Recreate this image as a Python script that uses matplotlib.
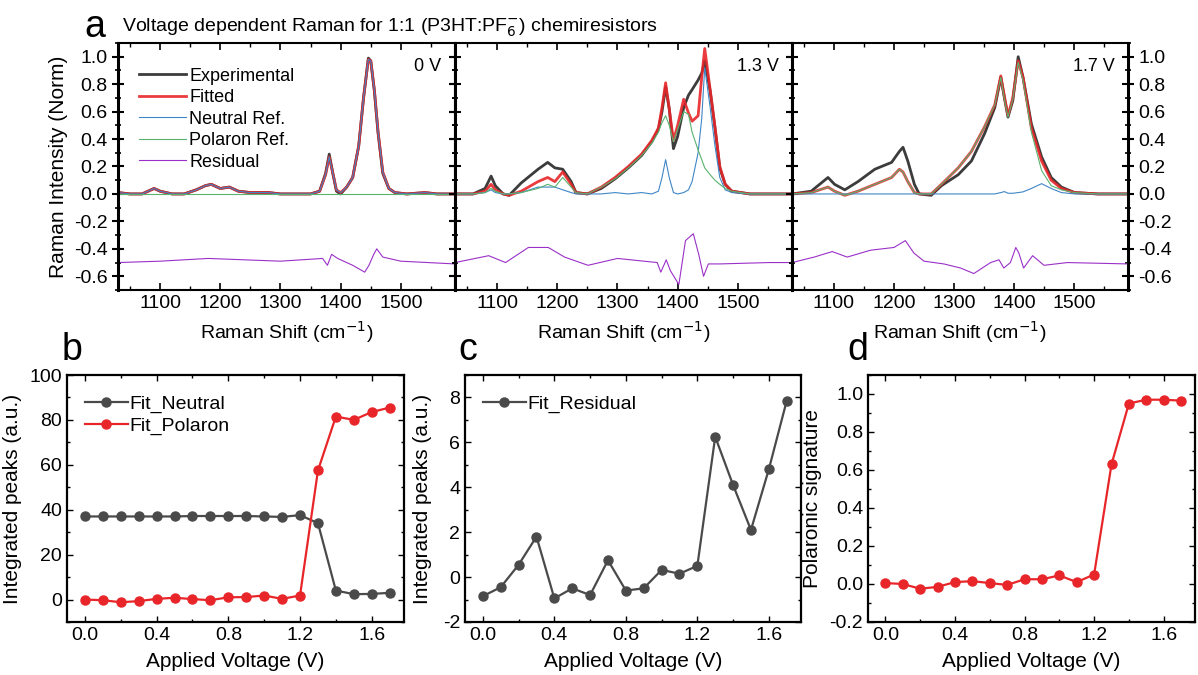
import numpy as np
import matplotlib.pyplot as plt
from matplotlib.ticker import MultipleLocator

plt.rcParams['font.family'] = ['Liberation Sans', 'DejaVu Sans']
plt.rcParams['axes.unicode_minus'] = False

# ---- panel a : spectra ----
# 0 V
x_0v = [1030, 1050, 1070, 1090, 1100, 1120, 1140, 1160, 1175, 1185, 1200, 1215, 1230, 1250, 1280,
        1300, 1320, 1350, 1365, 1375, 1381, 1387, 1393, 1400, 1410, 1420, 1430, 1438, 1446, 1450,
        1456, 1462, 1470, 1480, 1490, 1510, 1540, 1560, 1590]
exp_0v = [0.01, 0.0, 0.0, 0.04, 0.02, 0.0, 0.0, 0.03, 0.06, 0.07, 0.04, 0.05, 0.02, 0.01, 0.01,
          0.0, 0.0, 0.0, 0.02, 0.15, 0.29, 0.15, 0.02, 0.0, 0.05, 0.12, 0.35, 0.70, 0.99, 0.97,
          0.75, 0.45, 0.15, 0.04, 0.01, 0.0, 0.01, 0.0, 0.0]
fit_0v = [0.01, 0.0, 0.0, 0.04, 0.02, 0.0, 0.0, 0.03, 0.06, 0.07, 0.04, 0.05, 0.02, 0.01, 0.01,
          0.0, 0.0, 0.0, 0.02, 0.14, 0.27, 0.15, 0.03, 0.01, 0.05, 0.12, 0.35, 0.70, 0.98, 0.97,
          0.76, 0.46, 0.16, 0.04, 0.01, 0.0, 0.01, 0.0, 0.0]
pol_x_0v = [1030, 1590]
pol_0v = [0.0, 0.0]
res_x_0v = [1030, 1100, 1180, 1300, 1370, 1378, 1385, 1395, 1420, 1440, 1447, 1455, 1460, 1470, 1500, 1590]
res_0v = [-0.50, -0.49, -0.47, -0.49, -0.47, -0.52, -0.44, -0.47, -0.52, -0.57, -0.52, -0.44, -0.40,
          -0.46, -0.49, -0.51]

# 1.3 V
x_13 = [1030, 1060, 1080, 1090, 1097, 1110, 1120, 1140, 1168, 1184, 1196, 1209, 1223, 1231, 1250,
        1273, 1296, 1318, 1340, 1357, 1368, 1374, 1380, 1386, 1393, 1400, 1410, 1418, 1424, 1434,
        1440, 1445, 1454, 1462, 1470, 1479, 1490, 1520, 1590]
exp_13 = [0.0, 0.0, 0.04, 0.13, 0.06, 0.0, -0.01, 0.08, 0.18, 0.23, 0.19, 0.18, 0.09, 0.01, 0.0,
          0.04, 0.11, 0.19, 0.28, 0.38, 0.47, 0.60, 0.78, 0.62, 0.33, 0.42, 0.63, 0.72, 0.76, 0.83,
          0.88, 0.97, 0.75, 0.48, 0.19, 0.07, 0.02, 0.0, 0.0]
fit_13 = [0.0, 0.0, 0.02, 0.07, 0.03, 0.0, -0.01, 0.02, 0.09, 0.12, 0.09, 0.16, 0.07, 0.01, 0.0,
          0.05, 0.12, 0.20, 0.29, 0.39, 0.48, 0.63, 0.81, 0.62, 0.39, 0.50, 0.69, 0.59, 0.53, 0.57,
          0.85, 1.06, 0.76, 0.49, 0.20, 0.07, 0.02, 0.0, 0.0]
neu_13 = [0.0, 0.0, 0.01, 0.03, 0.01, 0.0, 0.0, 0.01, 0.05, 0.05, 0.05, 0.03, 0.01, 0.0, 0.0,
          0.0, 0.01, 0.0, 0.01, 0.0, 0.02, 0.12, 0.25, 0.12, 0.01, 0.0, 0.01, 0.03, 0.09, 0.30,
          0.55, 0.92, 0.63, 0.35, 0.12, 0.03, 0.01, 0.0, 0.0]
pol_13 = [0.0, 0.0, 0.01, 0.04, 0.02, 0.0, 0.0, 0.01, 0.04, 0.07, 0.05, 0.12, 0.05, 0.01, 0.0,
          0.05, 0.11, 0.19, 0.28, 0.37, 0.45, 0.52, 0.57, 0.50, 0.38, 0.47, 0.60, 0.58, 0.45, 0.32,
          0.25, 0.19, 0.14, 0.10, 0.07, 0.04, 0.02, 0.0, 0.0]
res_x_13 = [1030, 1086, 1114, 1152, 1185, 1212, 1251, 1300, 1366, 1372, 1381, 1388, 1402, 1413,
            1426, 1435, 1443, 1451, 1470, 1552, 1590]
res_13 = [-0.50, -0.45, -0.50, -0.39, -0.39, -0.46, -0.52, -0.47, -0.50, -0.57, -0.48, -0.56, -0.66,
          -0.34, -0.29, -0.44, -0.60, -0.51, -0.51, -0.50, -0.50]

# 1.7 V
x_17 = [1030, 1062, 1090, 1101, 1118, 1140, 1168, 1196, 1209, 1215, 1223, 1234, 1242, 1262, 1279,
        1307, 1329, 1351, 1368, 1378, 1384, 1390, 1398, 1407, 1415, 1429, 1446, 1462, 1479, 1501,
        1540, 1590]
exp_17 = [0.0, 0.02, 0.12, 0.07, 0.03, 0.09, 0.18, 0.23, 0.31, 0.34, 0.24, 0.07, 0.0, -0.01, 0.06,
          0.14, 0.24, 0.44, 0.63, 0.85, 0.70, 0.56, 0.68, 1.00, 0.85, 0.51, 0.27, 0.12, 0.05, 0.01,
          0.0, 0.0]
fit_17 = [0.0, 0.01, 0.05, 0.02, -0.01, 0.02, 0.07, 0.12, 0.18, 0.16, 0.09, 0.01, 0.0, 0.0, 0.07,
          0.19, 0.31, 0.49, 0.65, 0.86, 0.71, 0.57, 0.70, 0.97, 0.85, 0.48, 0.24, 0.10, 0.04, 0.01,
          0.0, 0.0]
neu_17 = [0.0, 0.0, 0.0, 0.0, 0.0, 0.0, 0.0, 0.0, 0.0, 0.0, 0.0, 0.0, 0.0, 0.0, 0.0,
          0.0, 0.0, 0.0, 0.0, 0.01, 0.017, 0.005, 0.005, 0.01, 0.015, 0.04, 0.075, 0.04, 0.01, 0.0,
          0.0, 0.0]
pol_17 = [0.0, 0.01, 0.05, 0.02, -0.01, 0.02, 0.07, 0.12, 0.18, 0.16, 0.09, 0.01, 0.0, 0.0, 0.07,
          0.19, 0.31, 0.49, 0.65, 0.85, 0.69, 0.56, 0.69, 0.96, 0.83, 0.45, 0.17, 0.06, 0.03, 0.01,
          0.0, 0.0]
res_x_17 = [1030, 1067, 1097, 1122, 1161, 1200, 1219, 1233, 1250, 1283, 1311, 1333, 1361, 1375,
            1383, 1394, 1403, 1408, 1416, 1431, 1450, 1489, 1590]
res_17 = [-0.50, -0.46, -0.42, -0.46, -0.41, -0.39, -0.34, -0.43, -0.49, -0.51, -0.54, -0.58, -0.50,
          -0.48, -0.54, -0.50, -0.39, -0.43, -0.54, -0.45, -0.52, -0.50, -0.51]

# ---- panels b, c, d ----
voltage = [0.0, 0.1, 0.2, 0.3, 0.4, 0.5, 0.6, 0.7, 0.8, 0.9, 1.0, 1.1, 1.2, 1.3, 1.4, 1.5, 1.6, 1.7]
fit_neutral = [37, 37, 37, 37, 37, 37, 37.2, 37.2, 37.2, 37.2, 37, 36.8, 37.6, 34, 4, 2.4, 2.5, 3]
fit_polaron = [0, -0.3, -1.2, -0.7, 0.3, 0.8, 0.2, -0.3, 1.0, 1.1, 1.8, 0.3, 1.8, 57.5, 81.5, 80, 83.5, 85.5]
fit_residual = [-0.85, -0.45, 0.55, 1.8, -0.95, -0.5, -0.8, 0.75, -0.6, -0.5, 0.32, 0.15, 0.5,
                6.25, 4.1, 2.1, 4.8, 7.85]
polaronic = [0.005, 0.0, -0.025, -0.015, 0.01, 0.015, 0.005, -0.005, 0.025, 0.025, 0.045, 0.01,
             0.05, 0.63, 0.95, 0.97, 0.97, 0.965]

W, H = 1198, 675
fig = plt.figure(figsize=(W / 100, H / 100), dpi=100)


def px_axes(left, top, right, bottom):
    return fig.add_axes([left / W, (H - bottom) / H, (right - left) / W, (bottom - top) / H])


c_exp = '#3c3c3c'
c_fit = '#e8262a'
c_neu = '#3f86c6'
c_pol = '#59b36f'
c_res = '#9b30c8'

spectra = [
    (x_0v, exp_0v, fit_0v, x_0v, fit_0v, pol_x_0v, pol_0v, res_x_0v, res_0v, '0 V'),
    (x_13, exp_13, fit_13, x_13, neu_13, x_13, pol_13, res_x_13, res_13, '1.3 V'),
    (x_17, exp_17, fit_17, x_17, neu_17, x_17, pol_17, res_x_17, res_17, '1.7 V'),
]
edges = [(118, 455), (455, 792), (792, 1128)]
axes_a = []
for i, (sp, (l, r)) in enumerate(zip(spectra, edges)):
    xs, ye, yf, xn, yn, xp, yp, xr, yr, lab = sp
    ax = px_axes(l, 43, r, 290)
    ax.plot(xs, ye, color=c_exp, lw=2.0, label='Experimental')
    ax.plot(xs, yf, color=c_fit, lw=2.0, label='Fitted', alpha=0.9)
    ax.plot(xn, yn, color=c_neu, lw=0.8, label='Neutral Ref.')
    ax.plot(xp, yp, color=c_pol, lw=0.8, label='Polaron Ref.')
    ax.plot(xr, yr, color=c_res, lw=0.8, label='Residual')
    ax.set_xlim(1030, 1590)
    ax.set_ylim(-0.7, 1.1)
    ax.xaxis.set_major_locator(MultipleLocator(100))
    ax.xaxis.set_minor_locator(MultipleLocator(50))
    ax.yaxis.set_major_locator(MultipleLocator(0.2))
    ax.yaxis.set_minor_locator(MultipleLocator(0.1))
    ax.tick_params(axis='x', which='both', direction='in', top=True, labelsize=14)
    ax.tick_params(axis='x', which='major', length=5, width=1.2)
    ax.tick_params(axis='x', which='minor', length=3, width=1)
    ax.tick_params(axis='y', which='both', direction='inout', left=True, right=True,
                   labelleft=(i == 0), labelright=(i == 2), labelsize=14)
    ax.tick_params(axis='y', which='major', length=8, width=1.5)
    ax.tick_params(axis='y', which='minor', length=5, width=1.2)
    for s in ax.spines.values():
        s.set_linewidth(1.5)
    ax.spines['left'].set_linewidth(2.2)
    ax.spines['right'].set_linewidth(2.2)
    ax.set_xlabel('Raman Shift (cm$^{-1}$)', fontsize=14, labelpad=5)
    ax.text(0.96, 0.94, lab, transform=ax.transAxes, ha='right', va='top', fontsize=13)
    axes_a.append(ax)

axes_a[0].set_ylabel('Raman Intensity (Norm)', fontsize=15)
axes_a[0].yaxis.set_label_coords(-0.148, 0.5)
axes_a[0].legend(loc='upper left', bbox_to_anchor=(0.04, 0.93), frameon=False, fontsize=13,
                 handlelength=2.6, handletextpad=0.2, labelspacing=0.25, borderaxespad=0)

fig.text(95 / W, 1 - 27 / H, 'a', fontsize=27, ha='center', va='center')
fig.text(122 / W, 1 - 28 / H, 'Voltage dependent Raman for 1:1 (P3HT:PF$_6^{-}$) chemiresistors',
         fontsize=14, ha='left', va='center')


def style_small(ax, ylim, ymaj, ymin):
    ax.set_xlim(-0.1, 1.78)
    ax.set_ylim(*ylim)
    ax.xaxis.set_major_locator(MultipleLocator(0.4))
    ax.xaxis.set_minor_locator(MultipleLocator(0.2))
    ax.yaxis.set_major_locator(MultipleLocator(ymaj))
    ax.yaxis.set_minor_locator(MultipleLocator(ymin))
    ax.tick_params(which='both', direction='in', top=True, right=True, labelsize=14)
    ax.tick_params(which='major', length=4, width=1)
    ax.tick_params(which='minor', length=2.5, width=1)
    for s in ax.spines.values():
        s.set_linewidth(1.6)
    ax.set_xlabel('Applied Voltage (V)', fontsize=15, labelpad=6)


mk = dict(marker='o', markersize=6.5, lw=1.6)

ax_b = px_axes(67, 375, 404, 622)
ax_b.plot(voltage, fit_neutral, color='#4a4a4a', label='Fit_Neutral', **mk)
ax_b.plot(voltage, fit_polaron, color='#e8262a', label='Fit_Polaron', **mk)
style_small(ax_b, (-10, 100), 20, 10)
ax_b.set_ylabel('Integrated peaks (a.u.)', fontsize=15)
ax_b.yaxis.set_label_coords(-0.134, 0.5)
ax_b.legend(loc='upper left', bbox_to_anchor=(0.03, 0.95), frameon=False, fontsize=14,
            handlelength=2.2, handletextpad=0.1, labelspacing=0.2, borderaxespad=0)

ax_c = px_axes(465, 375, 801, 622)
ax_c.plot(voltage, fit_residual, color='#4a4a4a', label='Fit_Residual', **mk)
style_small(ax_c, (-2, 9), 2, 1)
ax_c.set_ylabel('Integrated peaks (a.u.)', fontsize=15)
ax_c.yaxis.set_label_coords(-0.098, 0.5)
ax_c.legend(loc='upper left', bbox_to_anchor=(0.03, 0.95), frameon=False, fontsize=14,
            handlelength=2.2, handletextpad=0.1, borderaxespad=0)

ax_d = px_axes(868, 375, 1195, 622)
ax_d.plot(voltage, polaronic, color='#e8262a', **mk)
style_small(ax_d, (-0.2, 1.1), 0.2, 0.1)
ax_d.set_ylabel('Polaronic signature', fontsize=15)
ax_d.yaxis.set_label_coords(-0.14, 0.5)

for letter, xp in [('b', 72), ('c', 468), ('d', 858)]:
    fig.text(xp / W, 1 - 350 / H, letter, fontsize=27, ha='center', va='center')

fig.savefig('out.png', dpi=100)
